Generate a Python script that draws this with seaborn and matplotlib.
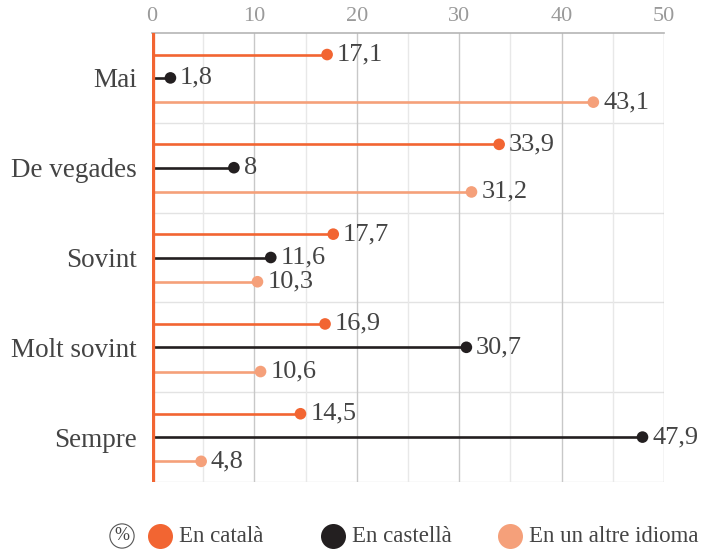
import numpy as np
import pandas as pd
import matplotlib.pyplot as plt
import seaborn as sns
from matplotlib.lines import Line2D
from matplotlib.ticker import MultipleLocator

categories = ["Mai", "De vegades", "Sovint", "Molt sovint", "Sempre"]
series = ["En català", "En castellà", "En un altre idioma"]
catala = [17.1, 33.9, 17.7, 16.9, 14.5]
castella = [1.8, 8, 11.6, 30.7, 47.9]
altre = [43.1, 31.2, 10.3, 10.6, 4.8]

colors = {"En català": "#F26532", "En castellà": "#231F20", "En un altre idioma": "#F5A07A"}
offsets = {"En català": -0.26, "En castellà": 0.0, "En un altre idioma": 0.27}

rows = []
for s, vals in zip(series, [catala, castella, altre]):
    for i, (c, v) in enumerate(zip(categories, vals)):
        rows.append({"cat": c, "serie": s, "valor": v, "y": i + offsets[s]})
df = pd.DataFrame(rows)

sns.set_style("white")
plt.rcParams["font.family"] = ["Liberation Serif", "DejaVu Serif"]
txt = "#444444"

fig = plt.figure(figsize=(7.05, 5.5), dpi=100)
ax = fig.add_axes([152 / 705, 1 - 482 / 550, (664 - 152) / 705, (482 - 33) / 550])

# tiges
for s in series:
    d = df[df.serie == s]
    ax.hlines(d.y, 0, d.valor, color=colors[s], lw=1.9, zorder=3)

sns.scatterplot(data=df, x="valor", y="y", hue="serie", palette=colors,
                s=70, edgecolor="none", legend=False, ax=ax, zorder=4)

for _, r in df.iterrows():
    lab = f"{r.valor:g}".replace(".", ",")
    ax.text(r.valor + 0.95, r.y, lab, va="center", ha="left", fontsize=19, color=txt, zorder=5)

ax.set_xlim(0, 50)
ax.set_ylim(len(categories) - 0.5, -0.5)
ax.xaxis.tick_top()
ax.xaxis.set_major_locator(MultipleLocator(10))
ax.xaxis.set_minor_locator(MultipleLocator(5))
ax.tick_params(axis="x", which="both", length=0, labelsize=16, labelcolor="#9a9a9a", pad=5)
ax.set_yticks(range(len(categories)))
ax.set_yticklabels(categories, fontsize=19.5, color=txt)
ax.tick_params(axis="y", length=0, pad=11)
ax.set_xlabel("")
ax.set_ylabel("")

ax.grid(axis="x", which="major", color="#c8c8c8", lw=1, zorder=0)
ax.grid(axis="x", which="minor", color="#e8e8e8", lw=1, zorder=0)
for i in range(len(categories)):
    ax.axhline(i + 0.5, color="#e3e3e3", lw=1, zorder=0)

for sp in ["left", "right", "bottom"]:
    ax.spines[sp].set_visible(False)
ax.spines["top"].set_color("#b5b5b5")
ax.spines["top"].set_linewidth(1.2)
ax.axvline(0, color=colors["En català"], lw=3.8, zorder=6)

# llegenda
ly = 1 - 536 / 550
for s, mx in zip(series, [160, 333, 510]):
    fig.add_artist(Line2D([mx / 705], [ly], marker="o", ls="", markersize=18,
                          color=colors[s], markeredgewidth=0, transform=fig.transFigure))
    fig.text((mx + 19) / 705, ly, s, ha="left", va="center", fontsize=16.5, color=txt)
fig.text(122 / 705, ly, "%", ha="center", va="center", fontsize=13, color=txt,
         bbox=dict(boxstyle="circle,pad=0.2", fc="white", ec="#555555", lw=0.8))

fig.savefig("out.png", dpi=100)
